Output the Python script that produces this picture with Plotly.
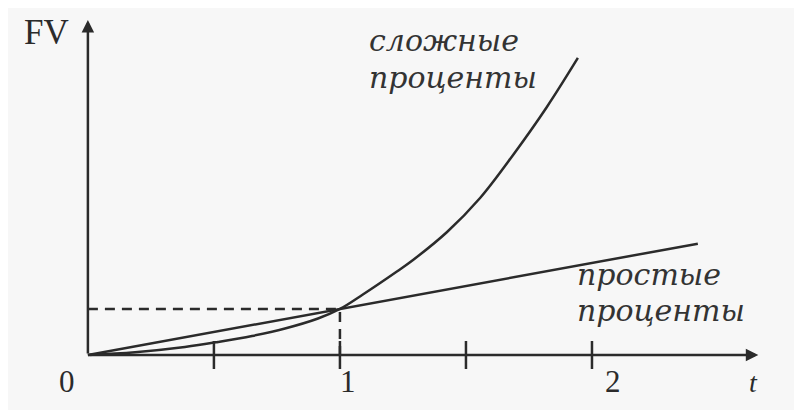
import plotly.graph_objects as go

# values (t in years, FV in units of the value at t = 1)
simple_t = [0, 1.0, 2.42]
simple_fv = [0, 1.0, 2.42]

compound_t = [0, 0.187, 0.385, 0.516, 0.651, 0.782, 0.913, 1.0, 1.091, 1.226,
              1.290, 1.425, 1.556, 1.687, 1.821, 1.944]
compound_fv = [0, 0.061, 0.174, 0.283, 0.413, 0.576, 0.793, 1.0, 1.315, 1.815,
               2.065, 2.674, 3.413, 4.348, 5.391, 6.457]

tick_t = [0.5, 1.0, 1.5, 2.0]
tick_labels = ["0", "1", "2"]
tick_label_t = [-0.083, 1.03, 2.083]

guide_t = [0, 1.0, 1.0]
guide_fv = [1.0, 1.0, 0]

ink = "#2b2b2b"
serif = "Liberation Serif, Times New Roman, serif"
label_serif = "DejaVu Serif, serif"

fig = go.Figure()

# dashed guide to the crossing point
fig.add_trace(go.Scatter(x=guide_t, y=guide_fv, mode="lines",
                         line=dict(color=ink, width=2.5, dash="10px,7px"),
                         hoverinfo="skip"))
fig.add_trace(go.Scatter(x=simple_t, y=simple_fv, mode="lines",
                         line=dict(color=ink, width=2.5), name="простые проценты"))
fig.add_trace(go.Scatter(x=compound_t, y=compound_fv, mode="lines",
                         line=dict(color=ink, width=2.5, shape="spline", smoothing=1.0),
                         name="сложные проценты"))
# tick marks on the t axis
fig.add_trace(go.Scatter(x=tick_t, y=[0] * len(tick_t), mode="markers",
                         marker=dict(symbol="line-ns", size=20,
                                     line=dict(color=ink, width=2.5)),
                         hoverinfo="skip"))

# axes with arrows
fig.add_annotation(x=2.66, y=0, ax=0, ay=0, xref="x", yref="y", axref="x", ayref="y",
                   showarrow=True, arrowhead=2, arrowsize=1, arrowwidth=2.5,
                   arrowcolor=ink, text="")
fig.add_annotation(x=0, y=7.28, ax=0, ay=0, xref="x", yref="y", axref="x", ayref="y",
                   showarrow=True, arrowhead=2, arrowsize=1, arrowwidth=2.5,
                   arrowcolor=ink, text="")

for lab, t in zip(tick_labels, tick_label_t):
    fig.add_annotation(x=t, y=-0.57, text=lab, showarrow=False,
                       font=dict(family=serif, size=31, color=ink))
fig.add_annotation(x=2.639, y=-0.59, text="t", showarrow=False,
                   font=dict(family=serif, size=28, color=ink, style="italic"))
fig.add_annotation(x=-0.163, y=7.0, text="FV", showarrow=False,
                   font=dict(family=serif, size=35, color=ink))

label_font = dict(family=label_serif, size=30, color="#333333", style="italic")
fig.add_annotation(x=1.107, y=6.826, text="сложные", showarrow=False,
                   xanchor="left", font=label_font)
fig.add_annotation(x=1.107, y=6.043, text="проценты", showarrow=False,
                   xanchor="left", font=label_font)
fig.add_annotation(x=1.933, y=1.739, text="простые", showarrow=False,
                   xanchor="left", font=label_font)
fig.add_annotation(x=1.933, y=0.957, text="проценты", showarrow=False,
                   xanchor="left", font=label_font)

# page body has an 8px margin, so ranges are shifted to keep marks in place
fig.update_layout(
    width=802, height=410,
    margin=dict(l=0, r=0, t=0, b=0),
    paper_bgcolor="#f7f7f7", plot_bgcolor="#f7f7f7",
    showlegend=False,
    xaxis=dict(range=[-0.317, 2.865], visible=False, fixedrange=True),
    yaxis=dict(range=[-1.370, 7.543], visible=False, fixedrange=True),
)

fig.write_html("out.html")
